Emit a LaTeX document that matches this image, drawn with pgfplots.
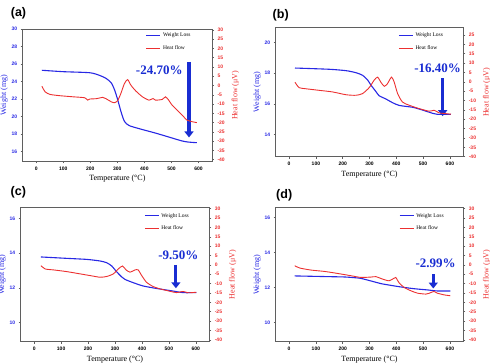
\documentclass[border=0pt]{standalone}
\usepackage{fontspec}
\setmainfont{Liberation Serif}
\newfontfamily\arialf{Liberation Sans}
\usepackage{pgfplots}
\pgfplotsset{compat=1.18}
\usetikzlibrary{arrows.meta}
\definecolor{wblue}{RGB}{40,40,228}
\definecolor{hred}{RGB}{236,48,48}
\definecolor{tblue}{RGB}{25,45,210}
\definecolor{aframe}{RGB}{95,95,95}
\tikzset{
 arr/.style={tblue, line width=3.2pt, -{Triangle[width=9pt,length=6pt]}},
 pct/.style={tblue, font=\bfseries\fontsize{13}{13}\selectfont},
}
\pgfplotsset{
 base/.style={scale only axis, xmin=-50, xmax=650,
   /pgf/number format/assume math mode=true,
   tick align=outside, major tick length=2pt,
   every tick/.style={aframe, line width=0.5pt},
   axis line style={aframe, line width=0.6pt}},
 leftax/.style={base, xtick={0,100,...,600}, xtick pos=bottom, ytick pos=left,
   ticklabel style={font=\arialf\bfseries\fontsize{5}{5}\selectfont},
   yticklabel style={wblue},
   xlabel={Temperature (°C)}, ylabel={Weight (mg)},
   xlabel style={font=\fontsize{8}{9}\selectfont, yshift=2pt},
   ylabel style={font=\fontsize{8}{9}\selectfont, text=wblue, yshift=-3pt}},
 rightax/.style={base, axis x line=none, axis y line*=right, ymin=-41, ymax=30.5,
   ytick={-40,-35,...,30},
   yticklabel style={font=\arialf\bfseries\fontsize{5}{5}\selectfont, text=hred},
   ylabel={Heat flow (μV)},
   ylabel style={font=\fontsize{8}{9}\selectfont, text=hred},
   legend style={draw=none, fill=none, font=\fontsize{5.5}{6}\selectfont,
     anchor=north west, inner sep=0pt, row sep=3pt,
     /tikz/every even column/.append style={column sep=1pt}},
   legend cell align=left,
   legend image code/.code={\draw[##1] (0pt,0pt) -- (14pt,0pt);}},
 wl/.style={wblue, line width=1.1pt, smooth, tension=0.4},
 hf/.style={hred, line width=0.9pt, smooth, tension=0.4},
}
\begin{document}
\begin{tikzpicture}
% ---------------- (a)
\begin{axis}[leftax, at={(22.7pt,200.5pt)}, anchor=south west, width=189.3pt, height=132.5pt,
  ymin=14.85, ymax=30, ytick={16,18,...,30}]
\addplot[wl] coordinates {(21,25.28) (100,25.12) (198,25.0) (234,24.7) (258,24.36) (277,23.86) (289,23.1) (301,21.95) (313,20.6) (326,19.45) (344,18.95) (393,18.5) (441,18.1) (490,17.65) (539,17.2) (563,17.07) (594,17.0)};
\draw[arr] (axis cs:565,26.24) -- (axis cs:565,17.6);
\node[pct] at (axis cs:455,25.32) {-24.70\%};
\end{axis}
\begin{axis}[rightax, at={(22.7pt,200.5pt)}, anchor=south west, width=189.3pt, height=132.5pt,
  legend style={at={(0.65,0.985)}}]
\addlegendimage{wblue, line width=1.1pt}
\addlegendentry{Weight Loss}
\addplot[hf] coordinates {(21,-0.4) (33,-3.4) (51,-4.8) (88,-5.5) (137,-6.1) (179,-6.6) (190,-7.9) (198,-7.3) (222,-7.1) (246,-6.4) (258,-7.1) (277,-8.75) (289,-9.3) (301,-8.2) (313,-4.3) (326,1.0) (338,3.2) (350,0.2) (368,-2.9) (393,-6.1) (417,-7.9) (432,-7.0) (441,-7.9) (466,-7.5) (478,-6.1) (490,-7.9) (502,-10.5) (527,-14.1) (545,-16.8) (557,-18.6) (576,-19.5) (594,-20)};
\addlegendentry{Heat flow}
\end{axis}
% ---------------- (b)
\begin{axis}[leftax, at={(275.7pt,205.3pt)}, anchor=south west, width=187.6pt, height=129pt,
  ymin=12.57, ymax=20.95, ytick={14,16,...,20}]
\addplot[wl] coordinates {(22,18.33) (149,18.25) (212,18.16) (249,18.03) (274,17.86) (293,17.55) (305,17.23) (324,16.8) (336,16.53) (361,16.32) (386,16.08) (411,15.9) (461,15.78) (498,15.6) (535,15.39) (554,15.32) (604,15.32)};
\draw[arr] (axis cs:573,17.66) -- (axis cs:573,15.2);
\node[pct] at (axis cs:554,18.31) {-16.40\%};
\end{axis}
\begin{axis}[rightax, at={(275.7pt,205.3pt)}, anchor=south west, width=187.6pt, height=129pt,
  ymin=-40, ymax=28.9, legend style={at={(0.653,0.975)}}]
\addlegendimage{wblue, line width=1.1pt}
\addlegendentry{Weight Loss}
\addplot[hf] coordinates {(22,-0.2) (37,-3.1) (62,-3.7) (112,-4.55) (162,-5.4) (212,-6.9) (249,-7.2) (274,-6.3) (299,-3.1) (317,0.8) (330,2.5) (342,-0.1) (355,-2.4) (367,-1.0) (382,2.5) (392,-0.1) (405,-6.3) (423,-10.8) (448,-12.5) (485,-14.3) (523,-15.7) (541,-15.2) (560,-16.6) (585,-17) (604,-17.3)};
\addlegendentry{Heat flow}
\end{axis}
% ---------------- (c)
\begin{axis}[leftax, at={(20.7pt,20.3pt)}, anchor=south west, width=188.6pt, height=134pt,
  ymin=8.91, ymax=16.61, ytick={10,12,...,16}]
\addplot[wl] coordinates {(25,13.78) (121,13.7) (195,13.64) (244,13.55) (269,13.45) (288,13.26) (306,12.93) (325,12.63) (337,12.49) (368,12.3) (405,12.11) (454,11.97) (516,11.82) (553,11.73) (602,11.73)};
\draw[arr] (axis cs:526,13.32) -- (axis cs:526,11.98);
\node[pct] at (axis cs:535,13.89) {-9.50\%};
\end{axis}
\begin{axis}[rightax, at={(20.7pt,20.3pt)}, anchor=south west, width=188.6pt, height=134pt,
  legend style={at={(0.654,0.975)}}]
\addlegendimage{wblue, line width=1.1pt}
\addlegendentry{Weight Loss}
\addplot[hf] coordinates {(25,-0.4) (41,-2.2) (72,-2.7) (121,-3.6) (170,-4.8) (207,-5.7) (244,-6.6) (269,-6.2) (294,-4.8) (312,-2.2) (328,-0.6) (341,-2.7) (356,-3.9) (374,-2.7) (386,-2.7) (399,-5.7) (417,-9.3) (442,-11.6) (467,-12.8) (504,-14.1) (528,-14.8) (553,-14.2) (572,-14.9) (602,-14.6)};
\addlegendentry{Heat flow}
\end{axis}
% ---------------- (d)
\begin{axis}[leftax, at={(275.7pt,20.3pt)}, anchor=south west, width=187.6pt, height=134pt,
  ymin=8.91, ymax=16.57, ytick={10,12,...,16}]
\addplot[wl] coordinates {(21,12.67) (145,12.63) (207,12.61) (244,12.57) (268,12.53) (306,12.38) (343,12.23) (380,12.13) (417,12.04) (466,11.94) (516,11.87) (553,11.81) (602,11.81)};
\draw[arr] (axis cs:538,12.76) -- (axis cs:538,11.95);
\node[pct] at (axis cs:547,13.37) {-2.99\%};
\end{axis}
\begin{axis}[rightax, at={(275.7pt,20.3pt)}, anchor=south west, width=187.6pt, height=134pt,
  legend style={at={(0.657,0.975)}}]
\addlegendimage{wblue, line width=1.1pt}
\addlegendentry{Weight Loss}
\addplot[hf] coordinates {(21,-0.46) (40,-1.7) (83,-2.8) (132,-3.5) (182,-4.6) (231,-5.8) (268,-6.7) (306,-6.5) (324,-6.3) (349,-7.6) (373,-8.5) (392,-7.1) (398,-6.7) (411,-9.7) (429,-12.0) (454,-13.8) (479,-15.1) (510,-15.6) (522,-15.2) (540,-14.2) (553,-15.1) (578,-16.0) (602,-16.5)};
\addlegendentry{Heat flow}
\end{axis}
% panel labels
\node[font=\arialf\bfseries\fontsize{12.5}{13}\selectfont] at (18.5pt,349pt) {(a)};
\node[font=\arialf\bfseries\fontsize{12.5}{13}\selectfont] at (280.7pt,347pt) {(b)};
\node[font=\arialf\bfseries\fontsize{12.5}{13}\selectfont] at (18.3pt,169.3pt) {(c)};
\node[font=\arialf\bfseries\fontsize{12.5}{13}\selectfont] at (284.2pt,166.8pt) {(d)};
\pgfresetboundingbox
\path[use as bounding box] (0pt,0pt) rectangle (490pt,362pt);
\end{tikzpicture}
\end{document}
